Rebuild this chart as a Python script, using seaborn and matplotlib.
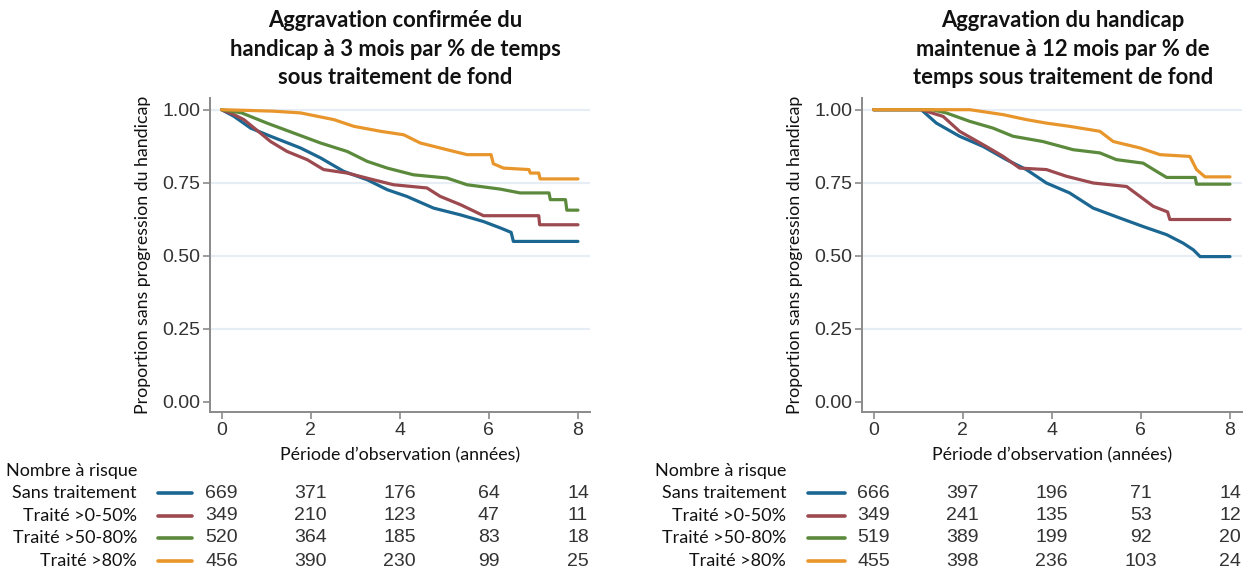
import matplotlib
matplotlib.use("Agg")
import matplotlib.pyplot as plt
from matplotlib.lines import Line2D
from matplotlib import transforms
import seaborn as sns
import numpy as np
import pandas as pd

# categories / style
groups = ["Sans traitement", "Traité >0-50%", "Traité >50-80%", "Traité >80%"]
couleurs = ["#1b6792", "#9c4a50", "#5b8a3c", "#e8962c"]

titre_gauche = "Aggravation confirmée du\nhandicap à 3 mois par % de temps\nsous traitement de fond"
titre_droite = "Aggravation du handicap\nmaintenue à 12 mois par % de\ntemps sous traitement de fond"

# courbes - 3 mois
t_sans_3m = [0, 0.28, 0.65, 1.10, 1.77, 2.22, 2.74, 3.27, 3.72, 4.16, 4.76, 5.36, 5.88, 6.26, 6.50, 6.55, 8.0]
s_sans_3m = [1.0, 0.977, 0.937, 0.909, 0.869, 0.835, 0.789, 0.760, 0.726, 0.703, 0.663, 0.640, 0.617, 0.595, 0.580, 0.549, 0.549]
t_050_3m = [0, 0.28, 0.5, 0.87, 1.1, 1.47, 1.92, 2.29, 2.82, 3.41, 3.86, 4.61, 4.91, 5.36, 5.88, 7.12, 7.14, 8.0]
s_050_3m = [1.0, 0.983, 0.966, 0.920, 0.891, 0.857, 0.829, 0.795, 0.783, 0.760, 0.743, 0.732, 0.703, 0.675, 0.637, 0.637, 0.606, 0.606]
t_5080_3m = [0, 0.45, 1.02, 1.62, 2.22, 2.82, 3.27, 3.72, 4.31, 5.06, 5.51, 6.26, 6.70, 7.35, 7.38, 7.72, 7.75, 8.0]
s_5080_3m = [1.0, 0.989, 0.954, 0.920, 0.886, 0.857, 0.823, 0.800, 0.777, 0.766, 0.743, 0.728, 0.715, 0.715, 0.692, 0.692, 0.656, 0.656]
t_80_3m = [0, 1.15, 1.77, 2.52, 2.97, 3.57, 4.09, 4.46, 5.06, 5.51, 6.05, 6.10, 6.33, 6.90, 6.93, 7.12, 7.15, 8.0]
s_80_3m = [1.0, 0.995, 0.989, 0.966, 0.943, 0.926, 0.914, 0.886, 0.863, 0.846, 0.846, 0.815, 0.800, 0.795, 0.783, 0.783, 0.763, 0.763]

# courbes - 12 mois
t_sans_12m = [0, 1.07, 1.41, 1.93, 2.46, 2.98, 3.43, 3.88, 4.40, 4.93, 5.53, 6.05, 6.58, 6.95, 7.18, 7.33, 8.0]
s_sans_12m = [1.0, 1.0, 0.954, 0.909, 0.874, 0.829, 0.795, 0.749, 0.715, 0.663, 0.629, 0.600, 0.572, 0.543, 0.520, 0.497, 0.497]
t_050_12m = [0, 1.07, 1.56, 1.93, 2.53, 2.91, 3.28, 3.88, 4.33, 4.93, 5.68, 5.98, 6.28, 6.60, 6.65, 8.0]
s_050_12m = [1.0, 1.0, 0.977, 0.926, 0.874, 0.840, 0.800, 0.795, 0.772, 0.749, 0.737, 0.703, 0.669, 0.650, 0.624, 0.624]
t_5080_12m = [0, 1.3, 1.63, 2.16, 2.68, 3.13, 3.80, 4.48, 5.08, 5.45, 6.05, 6.35, 6.58, 7.22, 7.25, 8.0]
s_5080_12m = [1.0, 1.0, 0.989, 0.960, 0.937, 0.909, 0.891, 0.863, 0.852, 0.829, 0.817, 0.789, 0.768, 0.768, 0.745, 0.745]
t_80_12m = [0, 2.16, 2.91, 3.43, 3.88, 4.40, 5.08, 5.38, 5.98, 6.43, 7.10, 7.25, 7.44, 8.0]
s_80_12m = [1.0, 1.0, 0.983, 0.966, 0.954, 0.943, 0.926, 0.891, 0.869, 0.846, 0.840, 0.795, 0.770, 0.770]

# nombre a risque (a 0, 2, 4, 6, 8 ans)
temps_risque = [0, 2, 4, 6, 8]
risque_3m = [[669, 371, 176, 64, 14],
             [349, 210, 123, 47, 11],
             [520, 364, 185, 83, 18],
             [456, 390, 230, 99, 25]]
risque_12m = [[666, 397, 196, 71, 14],
              [349, 241, 135, 53, 12],
              [519, 389, 199, 92, 20],
              [455, 398, 236, 103, 24]]


def make_df(ts, ss):
    rows = []
    for g, t, s in zip(groups, ts, ss):
        for a, b in zip(t, s):
            rows.append({"temps": a, "survie": b, "groupe": g})
    return pd.DataFrame(rows)


df_3m = make_df([t_sans_3m, t_050_3m, t_5080_3m, t_80_3m], [s_sans_3m, s_050_3m, s_5080_3m, s_80_3m])
df_12m = make_df([t_sans_12m, t_050_12m, t_5080_12m, t_80_12m], [s_sans_12m, s_050_12m, s_5080_12m, s_80_12m])

sns.set_theme(style="white")
plt.rcParams["font.family"] = ["Lato", "DejaVu Sans"]

fig = plt.figure(figsize=(12.52, 5.71), dpi=100)
palette = dict(zip(groups, couleurs))
gris = "#8a8a8a"
num_font = "Liberation Sans"
row_y = [493, 516, 538, 561]


def panel(left, df, titre, risque, title_x, lab_right, seg_x0, seg_x1):
    ax = fig.add_axes([left, 1 - 412 / 571, 0.3035, (412 - 98) / 571])
    for yv in [0.25, 0.5, 0.75, 1.0]:
        ax.axhline(yv, color="#e6edf4", lw=1.6, zorder=0)
    sns.lineplot(data=df, x="temps", y="survie", hue="groupe", palette=palette,
                 estimator=None, sort=False, legend=False, lw=2.3, ax=ax)
    ax.set_xlim(-0.26, 8.27)
    ax.set_ylim(-0.035, 1.04)
    ax.set_xticks([0, 2, 4, 6, 8])
    ax.set_yticks([0, 0.25, 0.5, 0.75, 1.0])
    ax.set_yticklabels(["0.00", "0.25", "0.50", "0.75", "1.00"])
    for lab in ax.get_xticklabels() + ax.get_yticklabels():
        lab.set_fontfamily(num_font)
        lab.set_fontsize(14)
        lab.set_color("#333333")
    ax.tick_params(axis="both", length=5, width=1.2, color=gris, direction="out", pad=2,
                   left=True, bottom=True)
    for sp in ["top", "right"]:
        ax.spines[sp].set_visible(False)
    for sp in ["left", "bottom"]:
        ax.spines[sp].set_color(gris)
        ax.spines[sp].set_linewidth(1.4)
    ax.set_xlabel("Période d’observation (années)", fontsize=12.8, color="#111111", labelpad=6)
    ax.set_ylabel("Proportion sans progression du handicap", fontsize=12.8, color="#111111", labelpad=8)
    fig.text(title_x, 1 - 49 / 571, titre, ha="center", va="center", fontsize=15.8,
             fontweight="bold", linespacing=1.42, color="#111111")

    # table du nombre a risque
    tr = transforms.blended_transform_factory(ax.transData, fig.transFigure)
    fig.text(lab_right, 1 - 471 / 571, "Nombre à risque", ha="right", va="center",
             fontsize=13, color="#111111")
    for i, g in enumerate(groups):
        yf = 1 - row_y[i] / 571
        fig.text(lab_right, yf, g, ha="right", va="center", fontsize=13, color="#111111")
        fig.add_artist(Line2D([seg_x0, seg_x1], [yf, yf], color=couleurs[i], lw=2.6,
                              solid_capstyle="round", transform=fig.transFigure))
        for t, n in zip(temps_risque, risque[i]):
            ax.text(t, yf, str(n), transform=tr, ha="center", va="center",
                    fontsize=14, fontfamily=num_font, color="#333333", clip_on=False)
    return ax


panel(210 / 1252, df_3m, titre_gauche, risque_3m, 395 / 1252, 137 / 1252, 158 / 1252, 192 / 1252)
panel(862 / 1252, df_12m, titre_droite, risque_12m, 1063 / 1252, 786 / 1252, 808 / 1252, 845 / 1252)

fig.savefig("out.png", dpi=100)
plt.close()
